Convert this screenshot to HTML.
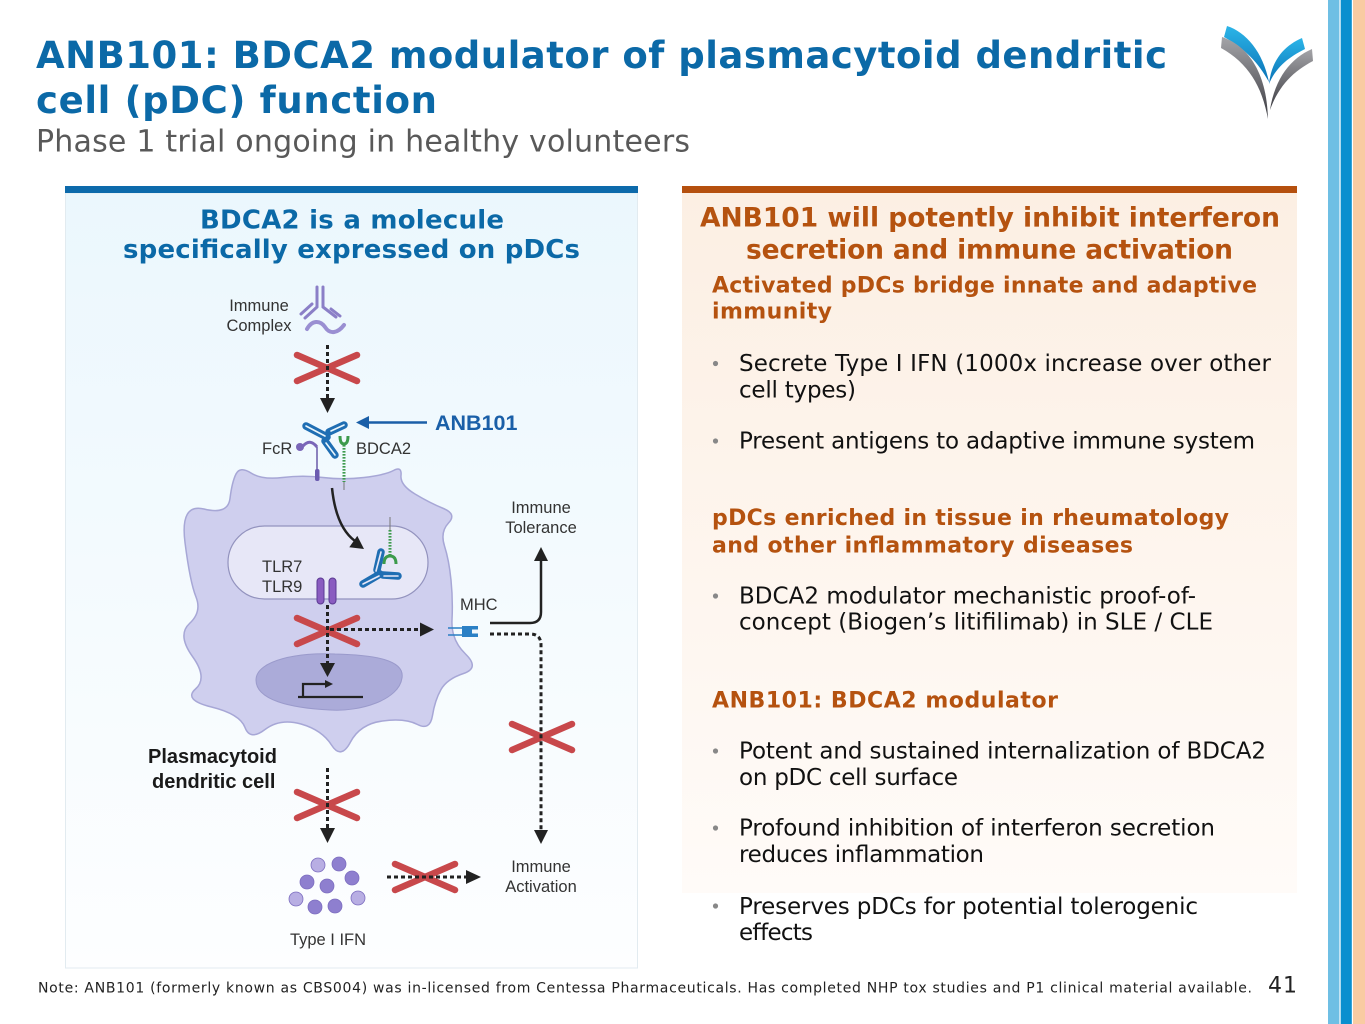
<!DOCTYPE html>
<html><head><meta charset="utf-8">
<style>
html,body{margin:0;padding:0;background:#fff;}
body{width:1365px;height:1024px;overflow:hidden;position:relative;}
svg{position:absolute;left:0;top:0;}
.t{font-family:"DejaVu Sans","Liberation Sans",sans-serif;}
.b{font-weight:bold;}
.d{font-family:"Liberation Sans",Arial,sans-serif;fill:#333;font-size:16.5px;}
</style></head><body>
<svg width="1365" height="1024" viewBox="0 0 1365 1024" xmlns="http://www.w3.org/2000/svg">
<defs>
<linearGradient id="lg" x1="0" y1="0" x2="0" y2="1"><stop offset="0" stop-color="#ebf7fd"/><stop offset="1" stop-color="#fdfeff"/></linearGradient>
<linearGradient id="rg" x1="0" y1="0" x2="0" y2="1"><stop offset="0" stop-color="#fcefe3"/><stop offset="1" stop-color="#fffbf8"/></linearGradient>
<linearGradient id="gy" x1="0" y1="0" x2="0" y2="1"><stop offset="0" stop-color="#a4a4a8"/><stop offset="1" stop-color="#3c3c42"/></linearGradient>
<linearGradient id="bl" x1="0" y1="0" x2="0" y2="1"><stop offset="0" stop-color="#2cb5e8"/><stop offset="1" stop-color="#0a72b6"/></linearGradient>
</defs>

<!-- right stripes -->
<rect x="1328" y="0" width="11.3" height="1024" fill="#6fbfe4"/>
<rect x="1339.3" y="0" width="1.5" height="1024" fill="#cfe9f6"/>
<rect x="1340.8" y="0" width="11" height="1024" fill="#0a8fcf"/>
<rect x="1353" y="0" width="12" height="1024" fill="#f9cba2"/>

<!-- logo -->
<path d="M1227,26 C1246,32 1263,52 1269,82 C1258,62 1245,49 1224,37 Z" fill="url(#bl)"/>
<path d="M1222,37 C1246,45 1267,70 1268,119 C1262,86 1248,63 1221,48 Z" fill="url(#gy)"/>
<path d="M1302,38 C1286,45 1272,58 1269,84 C1276,67 1289,57 1305,49 Z" fill="url(#bl)"/>
<path d="M1312,49 C1291,58 1275,78 1270,110 C1279,85 1294,71 1313,61 Z" fill="url(#gy)"/>

<!-- title -->
<text class="t b" x="36" y="68" font-size="37" fill="#0b69a7" textLength="1131">ANB101: BDCA2 modulator of plasmacytoid dendritic</text>
<text class="t b" x="36" y="113" font-size="37" fill="#0b69a7" textLength="401">cell (pDC) function</text>
<text class="t" x="36" y="151.7" font-size="30" fill="#595959" textLength="654">Phase 1 trial ongoing in healthy volunteers</text>

<!-- panels -->
<rect x="65.5" y="193" width="572" height="775" fill="url(#lg)" stroke="#e2ebf0" stroke-width="1"/>
<rect x="65" y="186" width="573" height="7" fill="#0d6aab"/>
<rect x="682" y="193" width="615" height="700" fill="url(#rg)"/>
<rect x="682" y="186" width="615" height="7" fill="#b5500e"/>

<!-- left heading -->
<text class="t b" x="200" y="228.3" font-size="26" fill="#0b69a7" textLength="304">BDCA2 is a molecule</text>
<text class="t b" x="123" y="258" font-size="26" fill="#0b69a7" textLength="457">specifically expressed on pDCs</text>

<!-- right heading -->
<text class="t b" x="700" y="226.7" font-size="26.5" fill="#b5520f" textLength="580">ANB101 will potently inhibit interferon</text>
<text class="t b" x="746" y="258.3" font-size="26.5" fill="#b5520f" textLength="487">secretion and immune activation</text>

<text class="t b" x="712" y="292.7" font-size="22" fill="#b5520f" textLength="545">Activated pDCs bridge innate and adaptive</text>
<text class="t b" x="712" y="318.5" font-size="22" fill="#b5520f" textLength="120">immunity</text>

<g fill="#888"><circle cx="715.5" cy="363.5" r="2.6"/><circle cx="715.5" cy="441" r="2.6"/><circle cx="715.5" cy="596" r="2.6"/><circle cx="715.5" cy="751" r="2.6"/><circle cx="715.5" cy="828" r="2.6"/><circle cx="715.5" cy="906" r="2.6"/></g>

<g class="t" font-size="23" fill="#111">
<text x="739" y="371" textLength="532">Secrete Type I IFN (1000x increase over other</text>
<text x="739" y="397.5" textLength="117">cell types)</text>
<text x="739" y="448.3" textLength="516">Present antigens to adaptive immune system</text>
<text x="739" y="603.3" textLength="457">BDCA2 modulator mechanistic proof-of-</text>
<text x="739" y="629.5" textLength="474">concept (Biogen’s litifilimab) in SLE / CLE</text>
<text x="739" y="758.3" textLength="527">Potent and sustained internalization of BDCA2</text>
<text x="739" y="785" textLength="219">on pDC cell surface</text>
<text x="739" y="835.5" textLength="476">Profound inhibition of interferon secretion</text>
<text x="739" y="862" textLength="245">reduces inflammation</text>
<text x="739" y="914" textLength="459">Preserves pDCs for potential tolerogenic</text>
<text x="739" y="940" textLength="74">effects</text>
</g>

<text class="t b" x="712" y="525" font-size="22" fill="#b5520f" textLength="517">pDCs enriched in tissue in rheumatology</text>
<text class="t b" x="712" y="552.3" font-size="22" fill="#b5520f" textLength="421">and other inflammatory diseases</text>
<text class="t b" x="712" y="707.7" font-size="22" fill="#b5520f" textLength="346">ANB101: BDCA2 modulator</text>

<!-- footer -->
<text class="t" x="38" y="992.5" font-size="14" fill="#222" textLength="1214">Note: ANB101 (formerly known as CBS004) was in-licensed from Centessa Pharmaceuticals. Has completed NHP tox studies and P1 clinical material available.</text>
<text class="t" x="1268" y="992.5" font-size="22" fill="#222" textLength="29">41</text>

<!-- ===== diagram ===== -->
<!-- immune complex -->
<text class="d" x="259" y="311" text-anchor="middle">Immune</text>
<text class="d" x="259" y="331" text-anchor="middle">Complex</text>
<g stroke="#8b7fc7" stroke-width="3" stroke-linecap="round" fill="none">
<path d="M317,287 L317,306 M323,287 L323,306"/>
<path d="M317,307 L305,318 M312,304 L301,314"/>
<path d="M323,307 L336,317 M331,309 L340,316"/>
<path d="M307,329 C312,320 320,320 325,327 C330,335 338,333 344,325" stroke-width="4" stroke="#9a8fd2"/>
</g>

<!-- cell -->
<path d="M236,474 Q240,466 251,473 Q262,480 282.5,477.5 Q303,475 323,477.5 Q343,480 364,477.5 Q385,475 393.5,470.5 Q402,466 401,475.5 Q400,485 415,494 Q430,503 443.5,508.5 Q457,514 448.5,523 Q440,532 444.5,546 Q449,560 451,580 Q453,600 452,620 Q451,640 465.5,654 Q480,668 463.5,673.5 Q447,679 441,689.5 Q435,700 432.5,715.5 Q430,731 417.5,724.5 Q405,718 382.5,721 Q360,724 350.5,742 Q341,760 331.5,745 Q322,730 301,724 Q280,718 265,729.5 Q250,741 245,727.5 Q240,714 211.5,707 Q183,700 195.5,689 Q208,678 192.5,656.5 Q177,635 189.5,623.5 Q202,612 196,597 Q190,582 185,542.5 Q180,503 204,509 Q228,515 230,498.5 Q232,482 236,474 Z" fill="#cfcfee" stroke="#a7a7d6" stroke-width="1.5"/>
<rect x="228" y="526" width="200" height="73" rx="36.5" fill="#e7e7f7" stroke="#9393be" stroke-width="1.2"/>
<path d="M256,680 C256,660 300,652 335,654 C375,655 405,660 402,678 C399,700 360,712 330,710 C290,708 256,700 256,680 Z" fill="#ababd9" stroke="#9a9acb" stroke-width="1"/>

<!-- promoter -->
<path d="M298,697 L363,697 M303,697 L303,684 L326,684" stroke="#222" stroke-width="2.2" fill="none"/>
<polygon points="325,680 325,688 333,684" fill="#222"/>

<!-- FcR -->
<circle cx="300" cy="447" r="4" fill="#7a66b8"/>
<path d="M303,446 Q310,438 317,447" stroke="#7a66b8" stroke-width="3" fill="none"/>
<line x1="317" y1="447" x2="317" y2="480" stroke="#6a5aa8" stroke-width="1.5"/>
<rect x="315" y="469" width="4.5" height="12" rx="2" fill="#6b5bb0"/>

<!-- BDCA2 -->
<path d="M340,436 Q340,444 344,444 Q348,444 348,436" stroke="#3c9a4c" stroke-width="3" fill="none"/>
<line x1="344" y1="445" x2="344" y2="482" stroke="#3c9a4c" stroke-width="3" stroke-dasharray="1.6 1.4"/>
<line x1="344" y1="482" x2="344" y2="490" stroke="#777" stroke-width="1"/>

<!-- top antibody -->
<g stroke-linecap="round">
<g stroke="#1f6eb3" stroke-width="7.5">
<line x1="327" y1="437" x2="306" y2="426"/>
<line x1="329" y1="432" x2="344" y2="425"/>
<line x1="325" y1="441" x2="335" y2="455"/>
</g>
<g stroke="#eaf6fc" stroke-width="1.6">
<line x1="325" y1="436" x2="306" y2="426"/>
<line x1="331" y1="431" x2="344" y2="425"/>
<line x1="326" y1="443" x2="335" y2="455"/>
</g>
</g>

<!-- ANB101 arrow -->
<line x1="367" y1="422.5" x2="427" y2="422.5" stroke="#1a5fa8" stroke-width="2.5"/>
<polygon points="356,422.5 369,416 369,429" fill="#1a5fa8"/>
<text x="435" y="430" font-family="Liberation Sans, Arial, sans-serif" font-weight="bold" font-size="21.5" fill="#1a5fa8">ANB101</text>

<text class="d" x="262" y="454">FcR</text>
<text class="d" x="356" y="454">BDCA2</text>

<!-- internalization arrow -->
<path d="M332,488 Q336,527 355,541" stroke="#222" stroke-width="2.5" fill="none"/>
<polygon points="364,549 349.3,547.3 357.3,535.9" fill="#222"/>

<!-- internalized complex -->
<line x1="390" y1="517" x2="390" y2="530" stroke="#777" stroke-width="1"/>
<line x1="390" y1="530" x2="390" y2="556" stroke="#3c9a4c" stroke-width="3" stroke-dasharray="1.6 1.4"/>
<path d="M384,564 Q384,556 390,556 Q396,556 396,564" stroke="#3c9a4c" stroke-width="3" fill="none"/>
<g stroke-linecap="round">
<g stroke="#1f6eb3" stroke-width="7.5">
<line x1="377" y1="570" x2="381" y2="552"/>
<line x1="383" y1="575" x2="398" y2="576"/>
<line x1="380" y1="574" x2="363" y2="584"/>
</g>
<g stroke="#e7e7f7" stroke-width="1.6">
<line x1="376" y1="571" x2="381" y2="552"/>
<line x1="384" y1="576" x2="398" y2="576"/>
<line x1="379" y1="576" x2="363" y2="584"/>
</g>
</g>

<text class="d" x="262" y="572">TLR7</text>
<text class="d" x="262" y="592">TLR9</text>
<rect x="317" y="578" width="7" height="26" rx="3.5" fill="#8a5cc0" stroke="#5b3a93" stroke-width="1"/>
<rect x="329" y="578" width="7" height="26" rx="3.5" fill="#8a5cc0" stroke="#5b3a93" stroke-width="1"/>

<!-- MHC -->
<text class="d" x="460" y="610">MHC</text>
<path d="M448,628 L462,628 M448,635 L462,635" stroke="#2a7fc4" stroke-width="1.5"/>
<rect x="462" y="626" width="16" height="11" fill="#2b80c5"/>
<rect x="472" y="629.5" width="6" height="4" fill="#f2f8fc"/>

<!-- Immune tolerance -->
<text class="d" x="541" y="513" text-anchor="middle">Immune</text>
<text class="d" x="541" y="533" text-anchor="middle">Tolerance</text>
<path d="M490,623 L530,623 Q541,623 541,612 L541,559" stroke="#222" stroke-width="2.5" fill="none"/>
<polygon points="534,561 548,561 541,547" fill="#222"/>

<!-- red X marks -->
<g stroke="#c8484b" stroke-width="6.5" stroke-linecap="round">
<path d="M297,355 L357,381 M297,381 L357,355"/>
<path d="M297,618 L357,644 M297,644 L357,618"/>
<path d="M297,792 L357,818 M297,818 L357,792"/>
<path d="M512,724 L572,750 M512,750 L572,724"/>
<path d="M395,864 L455,890 M395,890 L455,864"/>
</g>

<!-- dotted connectors -->
<g stroke="#222" stroke-width="3" stroke-dasharray="4 3" fill="none">
<path d="M327.5,345 L327.5,398"/>
<path d="M327.5,605 L327.5,663"/>
<path d="M330,629.5 L420,629.5"/>
<path d="M490,634 L530,634 Q541,634 541,645 L541,830"/>
<path d="M327.5,768 L327.5,828"/>
<path d="M387,877 L466,877"/>
</g>
<g fill="#222">
<polygon points="320,398 335,398 327.5,413"/>
<polygon points="320,663 335,663 327.5,677"/>
<polygon points="420,622.5 420,636.5 434,629.5"/>
<polygon points="534,830 548,830 541,844"/>
<polygon points="320,828 335,828 327.5,843"/>
<polygon points="466,870 466,884 481,877"/>
</g>

<!-- Plasmacytoid label -->
<text x="148" y="763" font-family="Liberation Sans, Arial, sans-serif" font-weight="bold" font-size="20" fill="#1a1a1a">Plasmacytoid</text>
<text x="152" y="788" font-family="Liberation Sans, Arial, sans-serif" font-weight="bold" font-size="20" fill="#1a1a1a">dendritic cell</text>

<!-- Type I IFN -->
<g stroke="#7d6ec0" stroke-width="0.8">
<circle cx="318" cy="865" r="7" fill="#b8aee3"/>
<circle cx="339" cy="864" r="7" fill="#8e7fcf"/>
<circle cx="307" cy="882" r="7" fill="#8e7fcf"/>
<circle cx="352" cy="878" r="7" fill="#8e7fcf"/>
<circle cx="327" cy="886" r="7" fill="#8e7fcf"/>
<circle cx="296" cy="899" r="7" fill="#b8aee3"/>
<circle cx="358" cy="898" r="7" fill="#b8aee3"/>
<circle cx="315" cy="907" r="7" fill="#8e7fcf"/>
<circle cx="335" cy="906" r="7" fill="#8e7fcf"/>
</g>
<text class="d" x="328" y="945" text-anchor="middle">Type I IFN</text>

<!-- Immune activation -->
<text class="d" x="541" y="872" text-anchor="middle">Immune</text>
<text class="d" x="541" y="892" text-anchor="middle">Activation</text>
</svg>
</body></html>
